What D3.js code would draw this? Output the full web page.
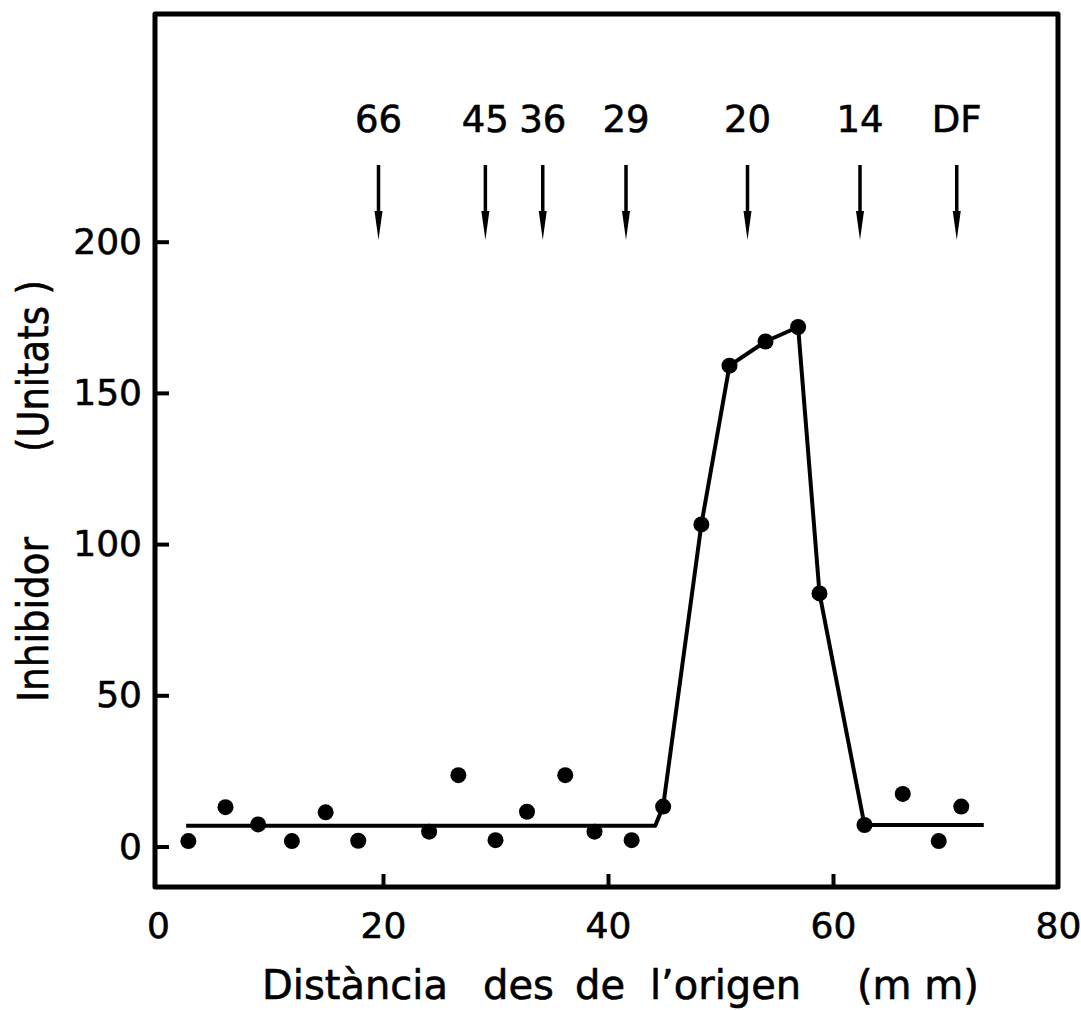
<!DOCTYPE html>
<html><head><meta charset="utf-8">
<script src="https://cdn.jsdelivr.net/npm/d3@7"></script>
<style>body{margin:0;background:#fff} text{stroke:#000;stroke-width:0.6px}</style>
</head><body>
<svg id="c" width="1081" height="1010"></svg>
<script>
// ---- data ----
const distance  = [2.7, 6.0, 8.9, 11.9, 14.9, 17.8, 24.1, 26.7, 30.0, 32.8, 36.2, 38.8, 42.1, 44.9, 48.3, 50.8, 54.0, 56.9, 58.8, 62.8, 66.2, 69.4, 71.4];
const inhibitor = [1.8, 13.0, 7.3, 1.8, 11.3, 1.9, 4.9, 23.6, 2.1, 11.5, 23.6, 4.9, 2.1, 13.2, 106.5, 159, 167, 171.8, 83.7, 7.1, 17.4, 1.8, 13.2];
const curveX = [2.5, 44.2, 44.9, 48.3, 50.8, 54.0, 56.9, 58.8, 62.8, 73.4];
const curveY = [6.9, 6.9, 13.2, 106.5, 159, 167, 171.8, 83.7, 7.1, 7.1];
const markerLabels = ["66", "45", "36", "29", "20", "14", "DF"];
const markerPos    = [19.6, 29.1, 34.2, 41.6, 52.4, 62.4, 71.0];
const xTicks = [0, 20, 40, 60, 80];
const yTicks = [0, 50, 100, 150, 200];
const xTitleWords = ["Distància", "des", "de", "l’origen", "(m m)"];
const yTitleWords = ["Inhibidor", "(Unitats )"];

// ---- layout ----
const FONT = "DejaVu Sans";
const frame = {left: 155, right: 1058, top: 14, bottom: 887};
const svg = d3.select("#c");
const x = d3.scaleLinear().domain([0, 80]).range([158, 1058]);
const y = d3.scaleLinear().domain([0, 200]).range([846.5, 241.7]);

// frame
svg.append("path")
  .attr("d", `M${frame.left},${frame.top}H${frame.right}V${frame.bottom}H${frame.left}Z`)
  .attr("fill", "none").attr("stroke", "#000").attr("stroke-width", 5)
  .attr("stroke-linejoin", "round");

// x axis
const gx = svg.append("g").attr("transform", `translate(0,${frame.bottom})`)
  .call(d3.axisBottom(x).tickValues(xTicks).tickFormat(d3.format("d")).tickSizeInner(-13).tickSizeOuter(0).tickPadding(25));
gx.select(".domain").remove();
gx.selectAll(".tick line").attr("stroke", "#000").attr("stroke-width", 4)
  .filter(d => d === 0 || d === 80).remove();
gx.selectAll(".tick text").attr("font-family", FONT).attr("font-size", 36).attr("fill", "#000");

// y axis
const gy = svg.append("g").attr("transform", `translate(${frame.left},0)`)
  .call(d3.axisLeft(y).tickValues(yTicks).tickFormat(d3.format("d")).tickSizeInner(-14).tickSizeOuter(0).tickPadding(13));
gy.select(".domain").remove();
gy.selectAll(".tick line").attr("stroke", "#000").attr("stroke-width", 4);
gy.selectAll(".tick text").attr("font-family", FONT).attr("font-size", 36).attr("fill", "#000");

// fitted curve
const line = d3.line().x(d => x(d[0])).y(d => y(d[1]));
svg.append("path").datum(d3.zip(curveX, curveY))
  .attr("d", line).attr("fill", "none").attr("stroke", "#000")
  .attr("stroke-width", 4).attr("stroke-linejoin", "round");

// points
svg.append("g").selectAll("circle").data(d3.zip(distance, inhibitor)).join("circle")
  .attr("cx", d => x(d[0])).attr("cy", d => y(d[1])).attr("r", 8).attr("fill", "#000");

// marker arrows
const mk = svg.append("g").selectAll("g").data(d3.zip(markerPos, markerLabels)).join("g")
  .attr("transform", d => `translate(${x(d[0])},0)`);
mk.append("text").text(d => d[1]).attr("y", 132).attr("text-anchor", "middle")
  .attr("font-family", FONT).attr("font-size", 37).attr("fill", "#000");
mk.append("line").attr("x1", 0).attr("x2", 0).attr("y1", 165).attr("y2", 216)
  .attr("stroke", "#000").attr("stroke-width", 3.5);
mk.append("path").attr("d", "M-4,211L4,211L0,240Z").attr("fill", "#000");

// x title
const xTitleX = [262, 483, 575, 650, 857];
svg.append("g").selectAll("text").data(d3.zip(xTitleWords, xTitleX)).join("text")
  .attr("x", d => d[1]).attr("y", 999).text(d => d[0])
  .attr("font-family", FONT).attr("font-size", 40).attr("fill", "#000");

// y title
const yTitleStart = [702, 452];
const yTitleLen = [165, 172];
svg.append("g").selectAll("text").data(d3.range(2)).join("text")
  .attr("transform", i => `translate(48,${yTitleStart[i]}) rotate(-90)`)
  .text(i => yTitleWords[i])
  .attr("textLength", i => yTitleLen[i]).attr("lengthAdjust", "spacingAndGlyphs")
  .attr("font-family", FONT).attr("font-size", 42).attr("fill", "#000");
</script>
</body></html>
